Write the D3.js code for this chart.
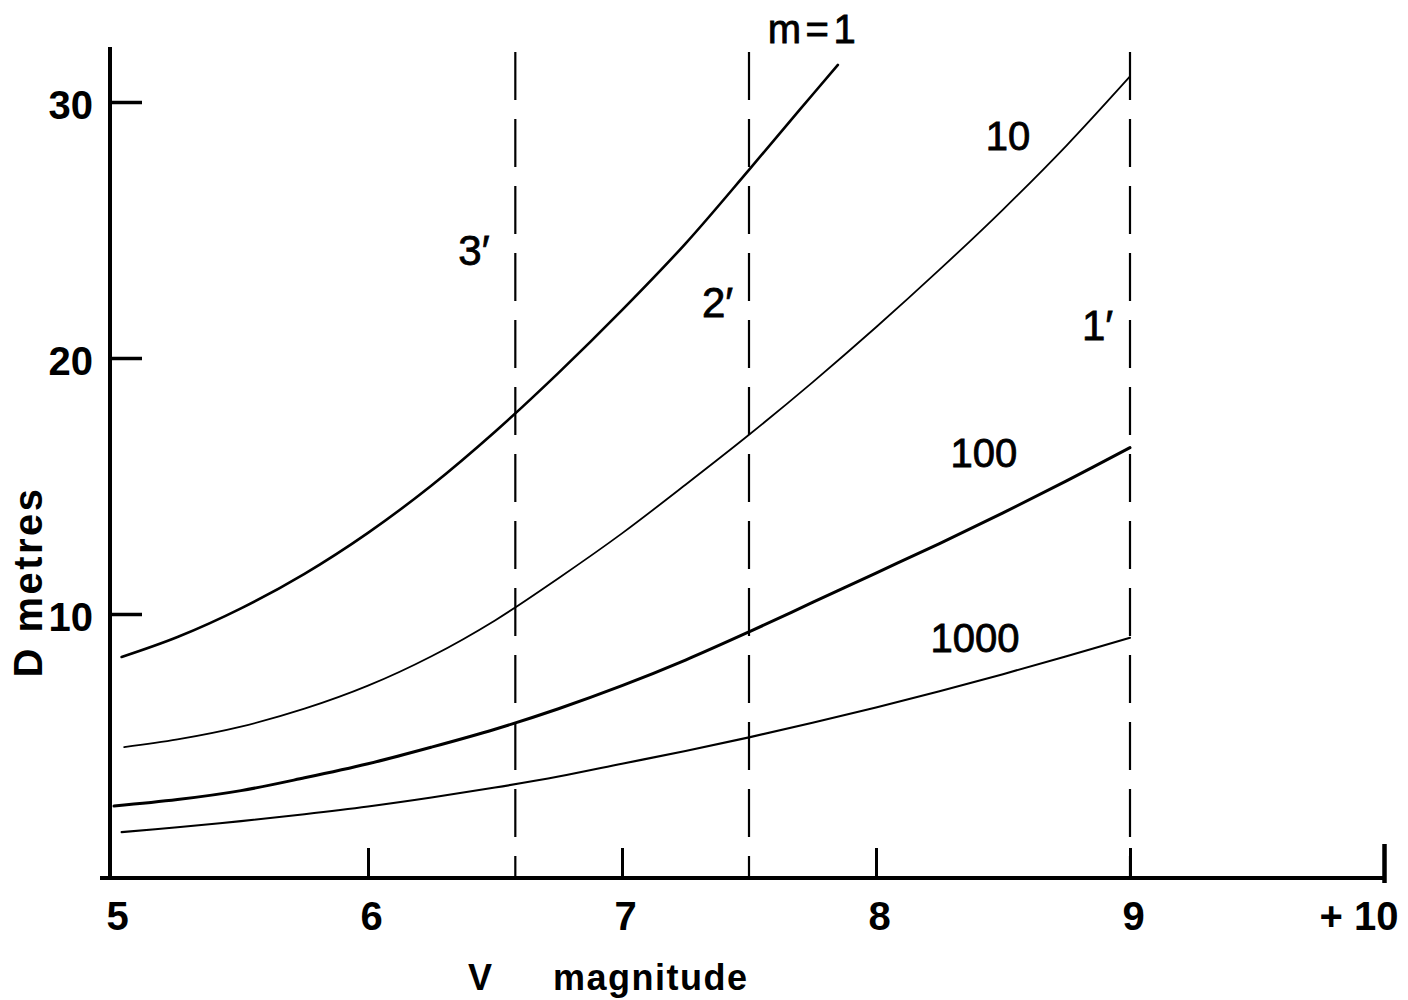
<!DOCTYPE html>
<html>
<head>
<meta charset="utf-8">
<script src="https://cdn.jsdelivr.net/npm/d3@7"></script>
<style>
  html, body { margin: 0; padding: 0; background: #fff; }
  svg { display: block; }
  text { font-family: "Liberation Sans", Arial, Helvetica, sans-serif; fill: #000; }
</style>
</head>
<body>
<svg id="chart" width="1408" height="1000"></svg>
<script>
// ---- data ----
const seriesNames = ["m=1", "10", "100", "1000"];

const m1Mag   = [5.03, 5.25, 5.5, 5.75, 6.0, 6.25, 6.5, 6.75, 7.0, 7.25, 7.5, 7.7, 7.85];
const m1D     = [8.32, 9.1, 10.22, 11.57, 13.17, 15.02, 17.12, 19.42, 21.87, 24.47, 27.35, 29.7, 31.45];

const m10Mag  = [5.04, 5.25, 5.5, 5.75, 6.0, 6.25, 6.5, 6.75, 7.0, 7.25, 7.5, 7.75, 8.0, 8.25, 8.5, 8.75, 9.0];
const m10D    = [4.8, 5.1, 5.6, 6.3, 7.2, 8.35, 9.75, 11.4, 13.15, 15.05, 17.0, 19.05, 21.2, 23.45, 25.8, 28.3, 31.0];

const m100Mag = [5.0, 5.25, 5.5, 5.75, 6.0, 6.25, 6.5, 6.75, 7.0, 7.25, 7.5, 7.75, 8.0, 8.25, 8.5, 8.75, 9.0];
const m100D   = [2.5, 2.75, 3.1, 3.6, 4.15, 4.8, 5.5, 6.3, 7.2, 8.2, 9.3, 10.45, 11.6, 12.75, 13.95, 15.2, 16.5];

const m1000Mag = [5.03, 5.25, 5.5, 5.75, 6.0, 6.25, 6.5, 6.75, 7.0, 7.25, 7.5, 7.75, 8.0, 8.25, 8.5, 8.75, 9.0];
const m1000D   = [1.48, 1.67, 1.91, 2.18, 2.48, 2.83, 3.22, 3.65, 4.15, 4.65, 5.18, 5.75, 6.35, 6.98, 7.65, 8.35, 9.07];

const slitMags   = [6.58, 7.5, 9.0];
const slitLabels = ["3", "2", "1"];

const xTicks = [5, 6, 7, 8, 9, 10];
const xTickLabels = ["5", "6", "7", "8", "9", "+ 10"];
const yTicks = [10, 20, 30];
const yTickLabels = ["10", "20", "30"];

// ---- layout ----
const svg = d3.select("#chart");
const x = d3.scaleLinear().domain([5, 10]).range([114, 1384]);
const y = d3.scaleLinear().domain([10, 30]).range([614, 102]);
const axisY0 = 878;   // pixel row of the x axis
const axisX0 = 110;   // pixel column of the y axis

const series = [
  { mag: m1Mag, d: m1D, width: 2.6 },
  { mag: m10Mag, d: m10D, width: 1.8 },
  { mag: m100Mag, d: m100D, width: 3.0 },
  { mag: m1000Mag, d: m1000D, width: 2.1 }
];

// dashed slit lines
svg.append("g").selectAll("line").data(slitMags).join("line")
  .attr("x1", d => x(d)).attr("x2", d => x(d))
  .attr("y1", 52).attr("y2", axisY0)
  .attr("stroke", "#000").attr("stroke-width", 2.2)
  .attr("stroke-dasharray", "48 19");

// curves
const line = d3.line().x(d => x(d[0])).y(d => y(d[1])).curve(d3.curveCatmullRom.alpha(0.5));
svg.append("g").selectAll("path").data(series).join("path")
  .attr("d", s => line(s.mag.map((m, i) => [m, s.d[i]])))
  .attr("fill", "none").attr("stroke", "#000")
  .attr("stroke-width", s => s.width)
  .attr("stroke-linecap", "round");

// x axis
const xAxis = d3.axisBottom(x).tickValues(xTicks)
  .tickFormat((d, i) => xTickLabels[i]).tickSize(-30).tickPadding(24);
const gx = svg.append("g").attr("transform", `translate(0,${axisY0})`).call(xAxis);
gx.select(".domain").remove();
gx.selectAll(".tick line").attr("stroke", "#000").attr("stroke-width", 3);
gx.selectAll(".tick text").attr("font-size", 40).attr("font-weight", "bold")
  .attr("font-family", "Liberation Sans, Arial, sans-serif").attr("fill", "#000")
  .attr("dx", 3);
gx.selectAll(".tick").filter(d => d === 5).select("line").remove();
gx.selectAll(".tick").filter(d => d === 10).select("line")
  .attr("y1", 5).attr("y2", -34).attr("stroke-width", 4.5);
gx.selectAll(".tick").filter(d => d === 10).select("text")
  .attr("text-anchor", "end").attr("dx", 14);
svg.append("line").attr("x1", 100).attr("x2", x(10) + 1)
  .attr("y1", axisY0).attr("y2", axisY0)
  .attr("stroke", "#000").attr("stroke-width", 4);

// y axis
const yAxis = d3.axisLeft(y).tickValues(yTicks)
  .tickFormat((d, i) => yTickLabels[i]).tickSize(-32).tickPadding(17);
const gy = svg.append("g").attr("transform", `translate(${axisX0},0)`).call(yAxis);
gy.select(".domain").remove();
gy.selectAll(".tick line").attr("stroke", "#000").attr("stroke-width", 3.5);
gy.selectAll(".tick text").attr("font-size", 40).attr("font-weight", "bold")
  .attr("font-family", "Liberation Sans, Arial, sans-serif").attr("fill", "#000")
  .attr("dy", "0.42em");
svg.append("line").attr("x1", axisX0).attr("x2", axisX0)
  .attr("y1", 47).attr("y2", axisY0 + 2)
  .attr("stroke", "#000").attr("stroke-width", 4);

// axis titles
svg.append("text").attr("x", 480).attr("y", 990).attr("text-anchor", "middle")
  .attr("font-size", 36).attr("font-weight", "bold").text("V");
svg.append("text").attr("x", 553).attr("y", 990)
  .attr("font-size", 36).attr("font-weight", "bold").attr("letter-spacing", 1.5)
  .text("magnitude");
svg.append("text").attr("transform", "translate(42,582) rotate(-90)")
  .attr("text-anchor", "middle").attr("font-size", 40).attr("font-weight", "bold")
  .attr("letter-spacing", 2.5).text("D  metres");

// curve labels (anchored in data coordinates)
const curveLabelPos = [[7.756, 32.3, 4.5], [8.52, 28.125, 0], [8.425, 15.74, 0], [8.39, 8.52, 0]];
svg.append("g").selectAll("text").data(seriesNames).join("text")
  .attr("x", (d, i) => x(curveLabelPos[i][0]))
  .attr("y", (d, i) => y(curveLabelPos[i][1]))
  .attr("text-anchor", "middle").attr("font-size", 40)
  .attr("letter-spacing", (d, i) => curveLabelPos[i][2])
  .attr("stroke", "#000").attr("stroke-width", 0.8)
  .text(d => d);

// slit labels: digit plus a prime mark as one text string
const slitLabelPos = [[-57, 23.63], [-47, 21.6], [-48, 20.7]];
svg.append("g").selectAll("text").data(slitLabels).join("text")
  .attr("x", (d, i) => x(slitMags[i]) + slitLabelPos[i][0])
  .attr("y", (d, i) => y(slitLabelPos[i][1]))
  .attr("font-size", 42).attr("stroke", "#000").attr("stroke-width", 0.8)
  .text(d => d + "\u2032");
</script>
</body>
</html>
